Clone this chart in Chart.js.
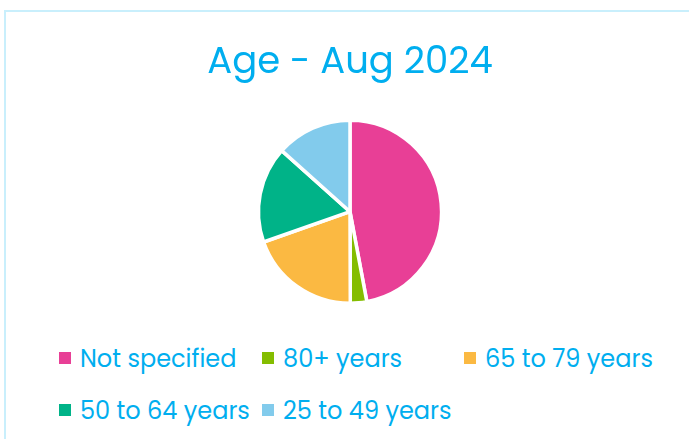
<!DOCTYPE html>
<html>
<head>
<meta charset="utf-8">
<script src="https://cdn.jsdelivr.net/npm/chart.js@4.4.1/dist/chart.umd.min.js"></script>
<style>
  html,body{margin:0;padding:0;background:#fff;overflow:hidden;}
  .card{position:absolute;left:4px;top:10px;width:720px;height:460px;border:2px solid #c9effc;box-sizing:border-box;}
  .chart-wrap{position:absolute;left:0;top:0;width:700px;height:305px;}
  .legend{position:absolute;left:59px;top:343px;width:640px;display:grid;grid-template-columns:203px 202px 203px;row-gap:22px;
    font-family:"Poppins","Inter",sans-serif;font-size:24px;color:#00aeef;}
  .legend span.item{display:flex;align-items:center;height:30px;white-space:nowrap;}
  .legend i{display:inline-block;width:12px;height:12px;margin-right:9px;flex:none;}
</style>
</head>
<body>
<div class="card"></div>
<div class="chart-wrap"><canvas id="ageChart"></canvas></div>
<div class="legend" id="legend"></div>
<script>
const labels = ["Not specified","80+ years","65 to 79 years","50 to 64 years","25 to 49 years"];
const values = [47.1,2.9,19.7,17.0,13.4];
const colors = ["#e83f96","#84bd00","#fbb942","#00b388","#82cbec"];

const chart = new Chart(document.getElementById("ageChart"),{
  type:"pie",
  data:{
    labels:labels,
    datasets:[{
      data:values,
      backgroundColor:colors,
      borderColor:"#fff",
      borderWidth:3.5
    }]
  },
  options:{
    responsive:true,
    maintainAspectRatio:false,
    animation:false,
    plugins:{
      legend:{display:false},
      tooltip:{enabled:false},
      title:{
        display:true,
        text:"Age - Aug 2024",
        color:"#00aeef",
        font:{family:"Poppins",size:37,weight:"normal"},
        padding:{top:42,bottom:32}
      }
    }
  }
});

/* html legend, 3 columns */
const leg = document.getElementById("legend");
chart.data.labels.forEach((l,i)=>{
  const s = document.createElement("span");
  s.className = "item";
  s.innerHTML = '<i style="background:'+colors[i]+'"></i>'+l;
  leg.appendChild(s);
});
</script>
</body>
</html>
